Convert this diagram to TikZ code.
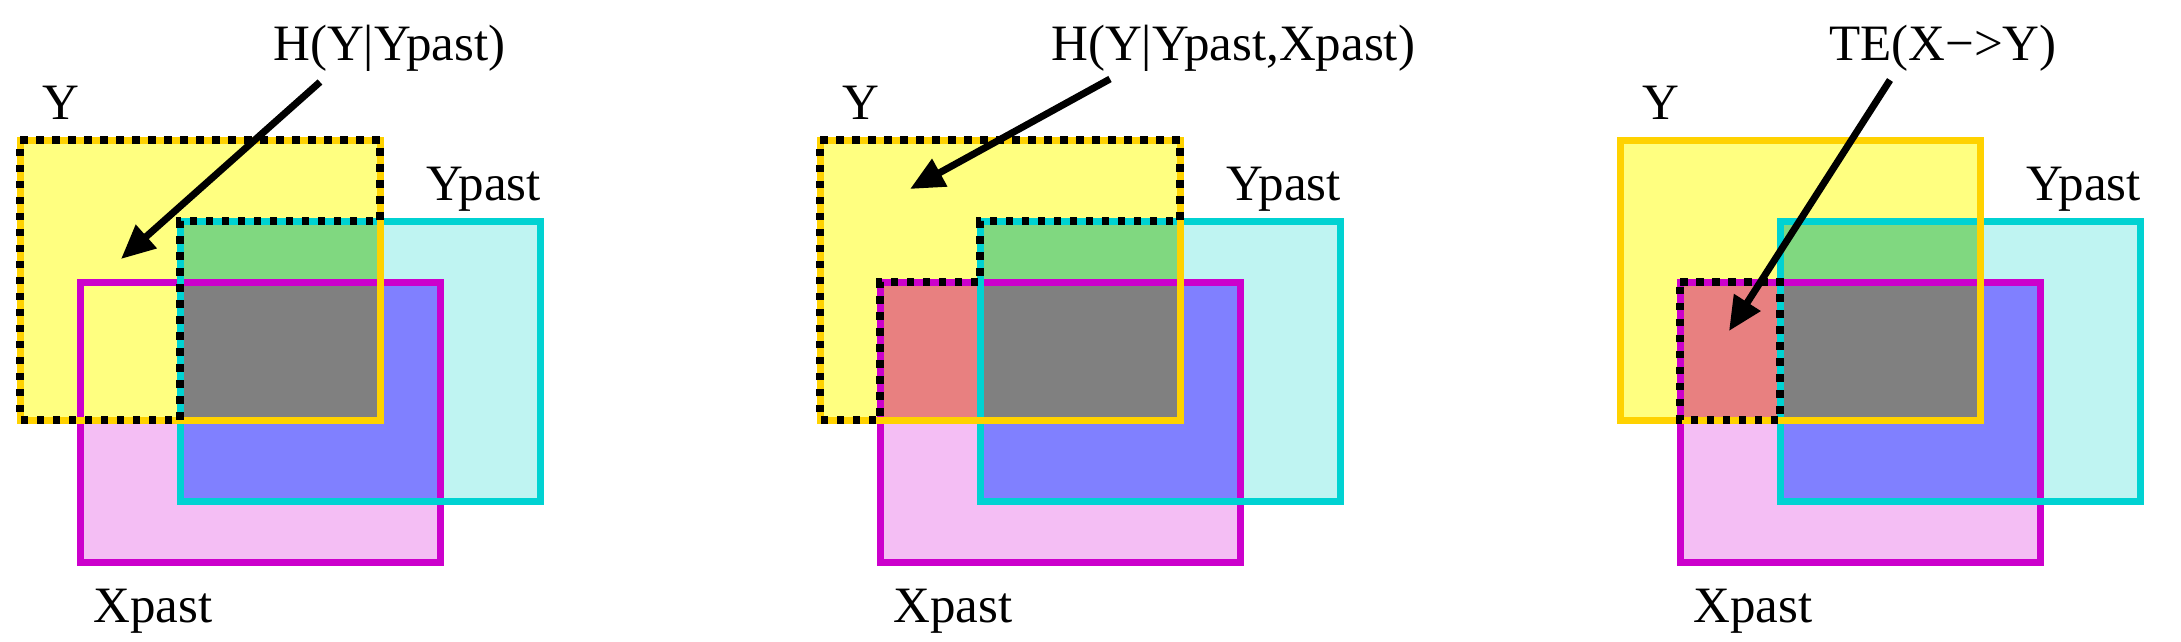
\documentclass[tikz,border=0pt]{standalone}
\usepackage{fontspec}
\setmainfont{Liberation Serif}
\usetikzlibrary{arrows.meta}
\definecolor{yfill}{HTML}{FFFF80}
\definecolor{ystroke}{HTML}{FFD200}
\definecolor{ypfill}{HTML}{BFF4F2}
\definecolor{ypstroke}{HTML}{00D2D2}
\definecolor{xpfill}{HTML}{F4BEF4}
\definecolor{xpstroke}{HTML}{CC00CC}
\definecolor{greenc}{HTML}{80D880}
\definecolor{bluec}{HTML}{8080FF}
\definecolor{grayc}{HTML}{808080}
\definecolor{redc}{HTML}{E88080}
\tikzset{
  yline/.style={draw=ystroke, line width=7pt},
  ypline/.style={draw=ypstroke, line width=7pt},
  xpline/.style={draw=xpstroke, line width=7pt},
  hl/.style={draw=black, line width=8pt, dash pattern=on 7.5pt off 8.5pt},
  arr/.style={draw=black, line width=7pt, -{Triangle[length=34pt,width=30pt]}},
  lab/.style={anchor=base west, inner sep=0pt, font=\fontsize{51}{55}\selectfont},
}
\newcommand\basepanel[2]{%
  \fill[yfill] (20,140) rectangle (380,420);
  \fill[ypfill] (180,221) rectangle (540,501);
  \fill[xpfill] (80,282) rectangle (440,562);
  \fill[greenc] (180,221) rectangle (380,420);
  \fill[bluec] (180,282) rectangle (440,501);
  \fill[#2] (80,282) rectangle (380,420);
  \fill[grayc] (180,282) rectangle (380,420);
  \draw[xpline] (80,282) rectangle (440,562);
  \draw[ypline] (180,221) rectangle (540,501);
  \draw[yline] (20,140) rectangle (380,420);
  \node[lab] (y#1) at (42,119) {Y};
  \node[lab, anchor=base east] (yp#1) at (541,200) {Ypast};
  \node[lab] (xp#1) at (93,622) {Xpast};
}
\begin{document}
\begin{tikzpicture}[x=1pt,y=-1pt]
\useasboundingbox[fill=white] (0,0) rectangle (2181,641);
% panel 1
\begin{scope}
  \basepanel{a}{yfill}
  \draw[hl] (20,140) -- (380,140) -- (380,221) -- (180,221) -- (180,420) -- (20,420) -- cycle;
  \node[lab] (la) at (273,60) {H(Y|Ypast)};
  \coordinate (sa) at (320,82);
  \coordinate (ta) at (121,259);
  \draw[arr] (sa) -- (ta);
\end{scope}
% panel 2
\begin{scope}[xshift=800pt]
  \basepanel{b}{redc}
  \draw[hl] (20,140) -- (380,140) -- (380,221) -- (180,221) -- (180,282) -- (80,282) -- (80,420) -- (20,420) -- cycle;
  \node[lab] (lb) at (251,60) {H(Y|Ypast,Xpast)};
  \coordinate (sb) at (310,79);
  \coordinate (tb) at (110,189);
  \draw[arr] (sb) -- (tb);
\end{scope}
% panel 3
\begin{scope}[xshift=1600pt]
  \basepanel{c}{redc}
  \draw[hl] (80,282) -- (180,282) -- (180,420) -- (80,420) -- cycle;
  \node[lab] (lc) at (229,60) {TE(X−>Y)};
  \coordinate (sc) at (290,80);
  \coordinate (tc) at (129,331);
  \draw[arr] (sc) -- (tc);
\end{scope}
\end{tikzpicture}
\end{document}
